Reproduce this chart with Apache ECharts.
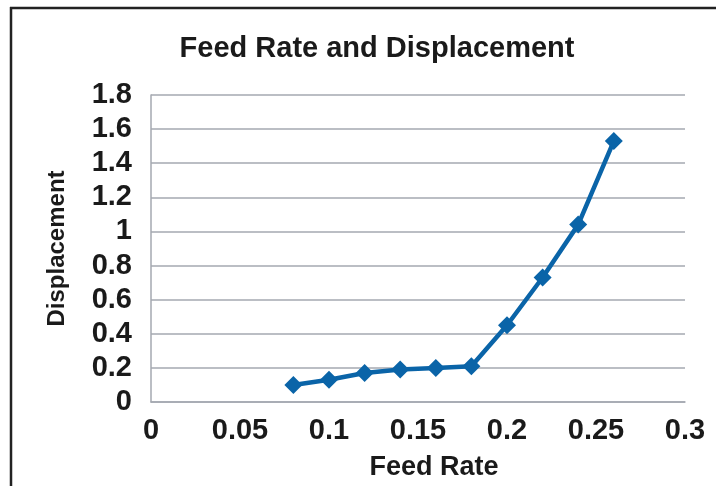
<!DOCTYPE html>
<html>
<head>
<meta charset="utf-8">
<script src="https://cdn.jsdelivr.net/npm/echarts@6/dist/echarts.min.js"></script>
<style>
html,body{margin:0;padding:0;background:#fff;}
#chart{width:716px;height:486px;}
</style>
</head>
<body>
<div id="chart"></div>
<script>
var feedRate = [0.08, 0.10, 0.12, 0.14, 0.16, 0.18, 0.20, 0.22, 0.24, 0.26];
var displacement = [0.10, 0.13, 0.17, 0.19, 0.20, 0.21, 0.45, 0.73, 1.04, 1.53];
var titleText = 'Feed Rate and Displacement';
var xName = 'Feed Rate';
var yName = 'Displacement';

var chart = echarts.init(document.getElementById('chart'));
var font = '"Liberation Sans", Arial, sans-serif';
var gridColor = '#a4a8b0';
chart.setOption({
  animation: false,
  backgroundColor: '#ffffff',
  title: {
    text: titleText,
    left: 372, top: 29,
    textAlign: 'center',
    textStyle: {fontFamily: font, fontWeight: 'bold', fontSize: 29, color: '#1a1a1a'}
  },
  grid: {left: 151, right: 31, top: 95, bottom: 81},
  xAxis: {
    type: 'value', min: 0, max: 0.3, interval: 0.05,
    name: xName, nameLocation: 'middle', nameGap: 52,
    nameTextStyle: {fontFamily: font, fontWeight: 'bold', fontSize: 27, color: '#1a1a1a', padding: [0, 0, 0, 32]},
    axisLine: {show: true, lineStyle: {color: gridColor, width: 1.5}},
    axisTick: {show: false},
    splitLine: {show: false},
    axisLabel: {fontFamily: font, fontWeight: 'bold', fontSize: 29, color: '#1a1a1a', margin: 14,
      formatter: function (v) { return String(+v.toFixed(2)); }}
  },
  yAxis: {
    type: 'value', min: 0, max: 1.8, interval: 0.2,
    name: yName, nameLocation: 'middle', nameGap: 82, nameRotate: 90,
    nameTextStyle: {fontFamily: font, fontWeight: 'bold', fontSize: 24, color: '#1a1a1a'},
    axisLine: {show: true, lineStyle: {color: gridColor, width: 1.5}},
    axisTick: {show: false},
    splitLine: {show: true, lineStyle: {color: gridColor, width: 1.5}},
    axisLabel: {fontFamily: font, fontWeight: 'bold', fontSize: 29, color: '#1a1a1a', margin: 19,
      formatter: function (v) { return String(+v.toFixed(1)); }}
  },
  series: [{
    type: 'line',
    data: feedRate.map(function (x, i) { return [x, displacement[i]]; }),
    symbol: 'diamond', symbolSize: 18,
    lineStyle: {color: '#0a64a8', width: 4.5},
    itemStyle: {color: '#0a64a8'}
  }],
  graphic: [
    {type: 'line', shape: {x1: 10, y1: 8, x2: 716, y2: 8}, style: {stroke: '#222', lineWidth: 2.5}},
    {type: 'line', shape: {x1: 11, y1: 7, x2: 11, y2: 486}, style: {stroke: '#222', lineWidth: 2.5}}
  ]
});
</script>
</body>
</html>
